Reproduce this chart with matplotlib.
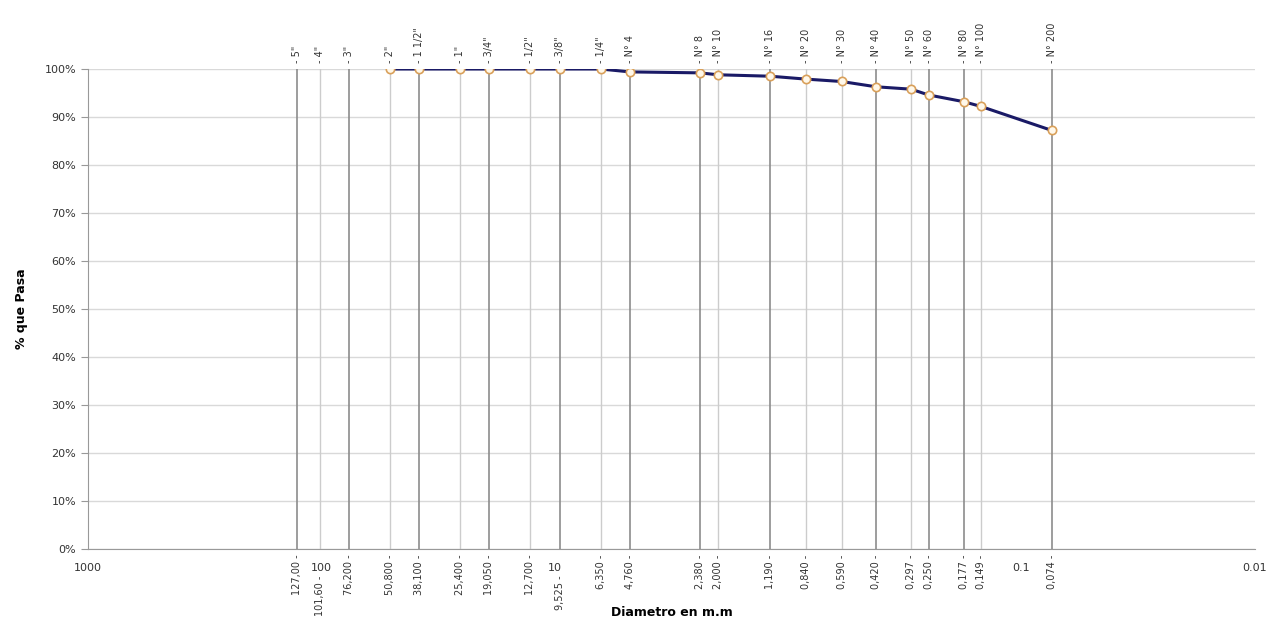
import matplotlib.pyplot as plt
from matplotlib.ticker import FixedLocator, PercentFormatter
import matplotlib.transforms as mtransforms

# Sieve data
sieves = ['5"', '4"', '3"', '2"', '1 1/2"', '1"', '3/4"', '1/2"', '3/8"', '1/4"',
          'N° 4', 'N° 8', 'N° 10', 'N° 16', 'N° 20', 'N° 30', 'N° 40', 'N° 50',
          'N° 60', 'N° 80', 'N° 100', 'N° 200']
diam = [127.0, 101.6, 76.2, 50.8, 38.1, 25.4, 19.05, 12.7, 9.525, 6.35,
        4.76, 2.38, 2.0, 1.19, 0.84, 0.59, 0.42, 0.297,
        0.25, 0.177, 0.149, 0.074]
diam_labels = ['127,00', '101,60', '76,200', '50,800', '38,100', '25,400', '19,050',
               '12,700', '9,525', '6,350', '4,760', '2,380', '2,000', '1,190',
               '0,840', '0,590', '0,420', '0,297', '0,250', '0,177', '0,149', '0,074']
dark_line = [True, False, True, False, True, False, True, False, True, False,
             True, True, False, True, False, False, True, False,
             True, True, False, True]
# labels pushed down so they clear the "100" and "10" tick labels
low_label = [False, True, False, False, False, False, False, False, True, False,
             False, False, False, False, False, False, False, False,
             False, False, False, False]

# Granulometric curve (from 2" down)
curve_d = [50.8, 38.1, 25.4, 19.05, 12.7, 9.525, 6.35, 4.76, 2.38, 2.0,
           1.19, 0.84, 0.59, 0.42, 0.297, 0.25, 0.177, 0.149, 0.074]
passing = [100.0, 100.0, 100.0, 100.0, 100.0, 100.0, 100.0, 99.4, 99.2, 98.8,
           98.5, 97.9, 97.4, 96.3, 95.8, 94.6, 93.2, 92.2, 87.2]

x_ticks = [1000, 100, 10, 0.1, 0.01]
x_tick_labels = ['1000', '100', '10', '0.1', '0.01']

fig = plt.figure(figsize=(12.7, 6.19), dpi=100)
ax = fig.add_axes([0.0693, 0.113, 0.9187, 0.7755])

ax.set_xscale('log')
ax.set_xlim(1000, 0.01)
ax.set_ylim(0, 100)

# horizontal grid
ax.yaxis.set_major_locator(FixedLocator(range(0, 101, 10)))
ax.yaxis.set_major_formatter(PercentFormatter(decimals=0))
ax.grid(axis='y', color='#d9d9d9', linewidth=1)
ax.set_axisbelow(True)

# vertical lines at sieve sizes
for d, dark in zip(diam, dark_line):
    ax.axvline(d, color='#8c8c8c' if dark else '#cccccc', linewidth=1.2 if dark else 1, zorder=1)

trans = mtransforms.blended_transform_factory(ax.transData, ax.transAxes)
for d, name, lab, low in zip(diam, sieves, diam_labels, low_label):
    ax.text(d, 1.012, '- ' + name, transform=trans, rotation=90, ha='center', va='bottom',
            fontsize=7, color='#333333')
    ax.text(d, -0.055 if low else -0.012, lab + ' -', transform=trans, rotation=90,
            ha='center', va='top', fontsize=7, color='#333333')

ax.plot(curve_d, passing, color='#1a1a66', linewidth=2.2, marker='o', markersize=6,
        markerfacecolor='#fff8ea', markeredgecolor='#d9a05a', markeredgewidth=1.2, zorder=3)

ax.xaxis.set_major_locator(FixedLocator(x_ticks))
ax.xaxis.set_minor_locator(FixedLocator([]))
ax.set_xticklabels(x_tick_labels, fontsize=8, color='#333333')
ax.tick_params(axis='x', length=0, pad=10)
ax.tick_params(axis='y', labelsize=8, labelcolor='#333333', color='#999999', length=5)

for s in ['top', 'right']:
    ax.spines[s].set_visible(False)
for s in ['left', 'bottom']:
    ax.spines[s].set_color('#999999')

ax.set_ylabel('% que Pasa', fontsize=9, fontweight='bold', labelpad=12)
ax.set_xlabel('Diametro en m.m', fontsize=9, fontweight='bold', labelpad=24)

plt.savefig('out.png', dpi=100)
plt.close()
